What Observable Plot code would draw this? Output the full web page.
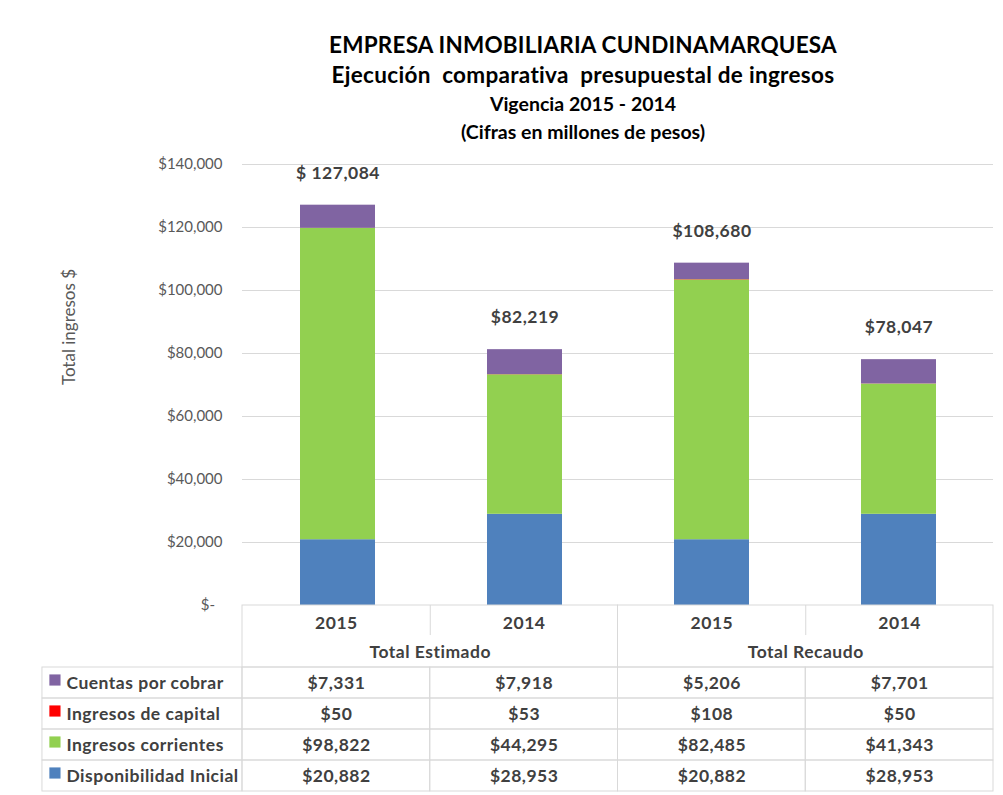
<!DOCTYPE html>
<html><head><meta charset="utf-8">
<script src="https://cdn.jsdelivr.net/npm/d3@7"></script>
<script src="https://cdn.jsdelivr.net/npm/@observablehq/plot@0.6"></script>
<style>
body{margin:0;background:#fff;font-family:Lato,"Noto Sans",sans-serif;}
#wrap{width:1003px;height:795px;overflow:hidden;position:relative;background:#fff}
#titles{height:150px;box-sizing:border-box;padding-top:30px;padding-left:163px;text-align:center;font-weight:bold;color:#000}
.t1{font-size:22.5px;line-height:30px;height:30px;letter-spacing:0.2px}
.t2{font-size:22.5px;line-height:30px;height:30px;letter-spacing:0.3px}
.t3{font-size:19.5px;line-height:28px;height:28px}
svg{display:block}
#table{margin-top:-1px}
</style></head><body>
<div id="wrap">
<div id="titles">
<div class="t1">EMPRESA INMOBILIARIA CUNDINAMARQUESA</div>
<div class="t2">Ejecución&nbsp; comparativa&nbsp; presupuestal de ingresos</div>
<div class="t3">Vigencia 2015 - 2014</div>
<div class="t3">(Cifras en millones de pesos)</div>
</div>
<div id="chart"></div>
<div id="table"></div>
</div>
<script>
// ---- data ----
const groups = ["Total Estimado", "Total Estimado", "Total Recaudo", "Total Recaudo"];
const years = ["2015", "2014", "2015", "2014"];
const series = ["Cuentas por cobrar", "Ingresos de capital", "Ingresos corrientes", "Disponibilidad Inicial"];
const seriesColors = ["#8064A2", "#FF0000", "#92D050", "#4F81BD"];
const cuentasPorCobrar = [7331, 7918, 5206, 7701];
const ingresosCapital = [50, 53, 108, 50];
const ingresosCorrientes = [98822, 44295, 82485, 41343];
const disponibilidadInicial = [20882, 28953, 20882, 28953];
const totalLabels = ["$ 127,084", "$82,219", "$108,680", "$78,047"];
const yTicks = [0, 20000, 40000, 60000, 80000, 100000, 120000, 140000];

// ---- derived ----
const valuesBySeries = [cuentasPorCobrar, ingresosCapital, ingresosCorrientes, disponibilidadInicial];
const keys = years.map((y, i) => groups[i] + " " + y);
// stack bottom -> top: Disponibilidad, corrientes, capital, cuentas
const stackRows = [];
[3, 2, 1, 0].forEach(j => keys.forEach((k, i) => stackRows.push({key: k, series: series[j], value: valuesBySeries[j][i]})));
const totals = keys.map((k, i) => d3.sum(valuesBySeries, v => v[i]));
const fmtMoney = v => "$" + d3.format(",")(v);
const font = "Lato, 'Noto Sans', sans-serif";
const grid = "#d9d9d9";
const txt = "#404040";

const chart = Plot.plot({
  width: 1003, height: 455,
  marginLeft: 242, marginRight: 10, marginTop: 14, marginBottom: 0,
  style: {fontFamily: font, overflow: "visible", background: "transparent"},
  x: {domain: keys, paddingInner: 0.6, paddingOuter: 0.3, axis: null},
  y: {domain: [0, 140000], axis: null},
  color: {domain: series, range: seriesColors},
  marks: [
    Plot.gridY(yTicks.filter(t => t > 0), {stroke: grid, strokeOpacity: 1}),
    Plot.axisY(yTicks, {tickSize: 0, tickPadding: 20, fontSize: 15, color: "#595959",
      tickFormat: d => d === 0 ? "$-\u2002" : fmtMoney(d), label: null}),
    Plot.barY(stackRows, {x: "key", y: "value", fill: "series"}),
    Plot.text(keys, {x: d => d, y: (d, i) => totals[i], text: (d, i) => totalLabels[i],
      dy: -32, fontWeight: "bold", fontSize: 17.5, fill: txt, style: "letter-spacing:0.5px"}),
    Plot.text(["Total ingresos $"], {text: d => d, frameAnchor: "left", textAnchor: "middle", rotate: -90,
      dx: -173, dy: -58, fontSize: 17, fill: "#595959"})
  ]
});
chart.querySelectorAll("g[aria-label='text'] text").forEach(t => {});
document.getElementById("chart").appendChild(chart);
// letter spacing for total labels
d3.select(chart).selectAll("g[aria-label='text']").filter((d, i) => i === 0).style("letter-spacing", "0.5px");

// ---- table ----
const legW = 200 / 187.7;
const yearCells = keys.map((k, i) => ({i, text: years[i]}));
const groupCells = d3.groups(keys.map((k, i) => ({g: groups[i], i})), d => d.g)
  .map(([g, arr]) => ({g, x1: d3.min(arr, d => d.i), x2: d3.max(arr, d => d.i) + 1}));
const innerSeps = keys.map((k, i) => i).filter(i => i > 0 && groups[i] === groups[i - 1]);
const dataCells = [];
series.forEach((s, j) => keys.forEach((k, i) => dataCells.push({i, r: 2 + j, text: fmtMoney(valuesBySeries[j][i])})));
const legendCells = series.map((s, j) => ({s, r: 2 + j}));

const table = Plot.plot({
  width: 1003, height: 191,
  marginLeft: 242, marginRight: 10, marginTop: 1, marginBottom: 4,
  style: {fontFamily: font, overflow: "visible", background: "transparent", letterSpacing: "0.5px"},
  x: {type: "linear", domain: [0, 4], axis: null},
  y: {type: "linear", domain: [0, 6], reverse: true, axis: null},
  color: {domain: series, range: seriesColors},
  marks: [
    Plot.rect(groupCells, {x1: "x1", x2: "x2", y1: 0, y2: 2, fill: "none", stroke: grid}),
    Plot.ruleX(innerSeps, {x: d => d, y1: 0, y2: 0.97, stroke: grid}),
    Plot.rect(dataCells, {x1: d => d.i, x2: d => d.i + 1, y1: d => d.r, y2: d => d.r + 1, fill: "none", stroke: grid}),
    Plot.rect(legendCells, {x1: -legW, x2: 0, y1: d => d.r, y2: d => d.r + 1, fill: "none", stroke: grid}),
    Plot.text(yearCells, {x: d => d.i + 0.5, y: 0.5, text: "text", fontWeight: "bold", fontSize: 17.5, fill: txt, dy: 2}),
    Plot.text(groupCells, {x: d => (d.x1 + d.x2) / 2, y: 1.5, text: "g", fontWeight: "bold", fontSize: 17.5, fill: txt}),
    Plot.text(dataCells, {x: d => d.i + 0.5, y: d => d.r + 0.5, text: "text", fontWeight: "bold", fontSize: 17.5, fill: txt}),
    Plot.dot(legendCells, {x: -legW, y: d => d.r + 0.5, fill: "s", symbol: "square", r: 6.3, dx: 12.5, dy: -3}),
    Plot.text(legendCells, {x: -legW, y: d => d.r + 0.5, text: "s", textAnchor: "start", dx: 24, fontWeight: "bold", fontSize: 17.5, fill: txt})
  ]
});
document.getElementById("table").appendChild(table);
</script>
</body></html>
